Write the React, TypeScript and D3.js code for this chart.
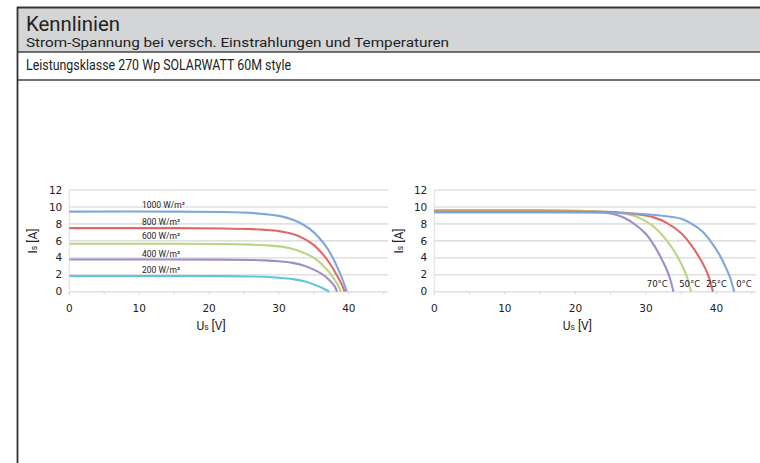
import React from "react";
import * as d3 from "d3";

const titleText = "Kennlinien";
const subtitleText = "Strom-Spannung bei versch. Einstrahlungen und Temperaturen";
const classText = "Leistungsklasse 270 Wp SOLARWATT 60M style";

const yTicks = [0, 2, 4, 6, 8, 10, 12];
const xTicks = [0, 10, 20, 30, 40];
const xMinorTicks = [5, 15, 25, 35, 45];

// Irradiance curves [U (V), I (A)]
const irrNames = ["1000 W/m²", "800 W/m²", "600 W/m²", "400 W/m²", "200 W/m²"];
const irr1000: [number, number][] = [[0, 9.45], [15, 9.45], [22, 9.4], [26, 9.3], [28, 9.15], [30, 8.95], [32, 8.5], [33.5, 7.9], [35, 7.0], [36.5, 5.6], [37.5, 4.3], [38.5, 2.6], [39.2, 1.2], [39.7, 0]];
const irr800: [number, number][] = [[0, 7.5], [15, 7.5], [22, 7.45], [26, 7.38], [28, 7.3], [30, 7.15], [32, 6.8], [33.5, 6.3], [35, 5.5], [36.3, 4.4], [37.3, 3.3], [38.3, 1.9], [39, 0.8], [39.4, 0]];
const irr600: [number, number][] = [[0, 5.65], [15, 5.65], [22, 5.62], [26, 5.55], [28, 5.48], [30, 5.35], [32, 5.05], [33.5, 4.6], [35, 4.0], [36.3, 3.1], [37.3, 2.2], [38.2, 1.1], [38.9, 0]];
const irr400: [number, number][] = [[0, 3.8], [15, 3.8], [22, 3.78], [26, 3.74], [28, 3.7], [30, 3.6], [32, 3.4], [33.5, 3.1], [35, 2.6], [36.3, 2.0], [37.3, 1.3], [38, 0.6], [38.3, 0]];
const irr200: [number, number][] = [[0, 1.85], [15, 1.85], [22, 1.84], [26, 1.8], [28, 1.76], [30, 1.65], [32, 1.48], [33.5, 1.25], [35, 0.85], [36.3, 0.4], [37.2, 0]];
const irrCurves = [irr1000, irr800, irr600, irr400, irr200];
const irrColors = ["#7fa7dc", "#e06868", "#b9d580", "#a08cc8", "#5cc6dc"];
const irrLabelY = [10.2, 8.2, 6.6, 4.5, 2.6];

// Temperature curves
const tempNames = ["70°C", "50°C", "25°C", "0°C"];
const temp70: [number, number][] = [[0, 9.6], [15, 9.6], [20, 9.55], [22, 9.5], [24, 9.35], [25.5, 9.15], [27, 8.7], [28.5, 7.9], [30, 6.8], [31.2, 5.4], [32.2, 3.9], [33, 2.5], [33.5, 1.3], [33.9, 0]];
const temp50: [number, number][] = [[0, 9.55], [15, 9.55], [22, 9.52], [25, 9.4], [27, 9.2], [28.5, 8.9], [30, 8.3], [31.2, 7.6], [32.5, 6.5], [34, 4.8], [35, 3.3], [35.7, 2.0], [36.4, 0]];
const temp25: [number, number][] = [[0, 9.45], [15, 9.45], [24, 9.42], [27, 9.3], [29, 9.1], [31, 8.8], [33, 8.1], [35, 6.9], [36.5, 5.4], [37.8, 3.7], [38.8, 2.0], [39.5, 0]];
const temp0: [number, number][] = [[0, 9.35], [15, 9.35], [25, 9.32], [29, 9.2], [32, 9.0], [33.5, 8.85], [35, 8.6], [36.5, 8.0], [38, 7.1], [39.3, 5.8], [40.4, 4.4], [41.3, 2.9], [42, 1.5], [42.5, 0]];
const tempCurves = [temp70, temp50, temp25, temp0];
const tempColors = ["#a08cc8", "#b9d580", "#e06868", "#7fa7dc"];
const tempLabelX = [31.6, 36.2, 40.0, 43.9];

const FONT = "Roboto, 'Open Sans', sans-serif";
const TICKFONT = "'DejaVu Sans', sans-serif";

type Props = {
  x0: number;
  x1: number;
  ylabX: number;
  curves: [number, number][][];
  colors: string[];
  children?: (x: d3.ScaleLinear<number, number>, y: d3.ScaleLinear<number, number>) => React.ReactNode;
};

function Plot({ x0, x1, ylabX, curves, colors, children }: Props) {
  const x = d3.scaleLinear().domain([0, 45.6]).range([x0, x1]);
  const y = d3.scaleLinear().domain([0, 12]).range([291.7, 190]);
  const line = d3
    .line<[number, number]>()
    .x((d) => x(d[0]))
    .y((d) => y(d[1]))
    .curve(d3.curveCatmullRom.alpha(0.5));
  return (
    <g>
      {yTicks.map((t) => (
        <line key={"g" + t} x1={x0} x2={x1} y1={y(t)} y2={y(t)} stroke="#e0e0e0" strokeWidth={t === 0 ? 1.5 : 1.6} />
      ))}
      <line x1={x0} x2={x0} y1={y(12)} y2={y(0) + 3} stroke="#e3e3e3" strokeWidth={1.2} />
      {[...xTicks, ...xMinorTicks].map((t) => (
        <line key={"t" + t} x1={x(t)} x2={x(t)} y1={y(0)} y2={y(0) + 3} stroke="#d6d6d6" strokeWidth={1} />
      ))}
      {yTicks.map((t) => (
        <text key={"yl" + t} x={x0 - 7} y={y(t)} dy="0.35em" textAnchor="end" fontFamily={TICKFONT} fontSize={10.5} fill="#222">
          {t}
        </text>
      ))}
      {xTicks.map((t) => (
        <text key={"xl" + t} x={x(t)} y={y(0) + 17} dy="0.35em" textAnchor="middle" fontFamily={TICKFONT} fontSize={10.5} fill="#222">
          {t}
        </text>
      ))}
      <text x={(x(0) + x(40)) / 2 + 2} y={330} textAnchor="middle" fontFamily={FONT} fontSize={12} fill="#222">
        U<tspan fontSize={8.5}>s</tspan> [V]
      </text>
      <text transform={`translate(${ylabX},${241}) rotate(-90)`} textAnchor="middle" fontFamily={FONT} fontSize={12} fill="#222">
        I<tspan fontSize={8.5}>s</tspan> [A]
      </text>
      {curves.map((c, i) => (
        <path key={"c" + i} d={line(c) || ""} fill="none" stroke={colors[i]} strokeWidth={2.1} strokeLinejoin="round" />
      ))}
      {children && children(x, y)}
    </g>
  );
}

export default function App() {
  return (
    <svg width={760} height={463} style={{ position: "absolute", left: 0, top: 0, background: "#fff" }}>
      <rect x={18} y={8} width={742} height={44} fill="#d4d5d6" />
      <line x1={17} x2={760} y1={7.5} y2={7.5} stroke="#333" strokeWidth={1.8} />
      <line x1={17} x2={760} y1={52} y2={52} stroke="#444" strokeWidth={1.4} />
      <line x1={17} x2={760} y1={80} y2={80} stroke="#444" strokeWidth={1.4} />
      <line x1={17.5} x2={17.5} y1={7} y2={463} stroke="#333" strokeWidth={1.8} />
      <text x={26} y={31} fontFamily={FONT} fontSize={20} fill="#222" textLength={94} lengthAdjust="spacingAndGlyphs">
        {titleText}
      </text>
      <text x={26} y={46.5} fontFamily={FONT} fontSize={12} fill="#222" textLength={423} lengthAdjust="spacingAndGlyphs">
        {subtitleText}
      </text>
      <text x={26} y={70} fontFamily={FONT} fontSize={14} fill="#222" textLength={265} lengthAdjust="spacingAndGlyphs">
        {classText}
      </text>
      <Plot x0={69.3} x1={388} ylabX={37} curves={irrCurves} colors={irrColors}>
        {(x, y) =>
          irrNames.map((n, i) => (
            <text key={n} x={142} y={y(irrLabelY[i])} dy="0.35em" fontFamily={FONT} fontSize={8.5} fill="#222">
              {n}
            </text>
          ))
        }
      </Plot>
      <Plot x0={434.3} x1={756} ylabX={403} curves={tempCurves} colors={tempColors}>
        {(x, y) =>
          tempNames.map((n, i) => (
            <text key={n} x={x(tempLabelX[i])} y={y(0.9)} dy="0.35em" textAnchor="middle" fontFamily={TICKFONT} fontSize={8.5} fill="#222">
              {n}
            </text>
          ))
        }
      </Plot>
    </svg>
  );
}
